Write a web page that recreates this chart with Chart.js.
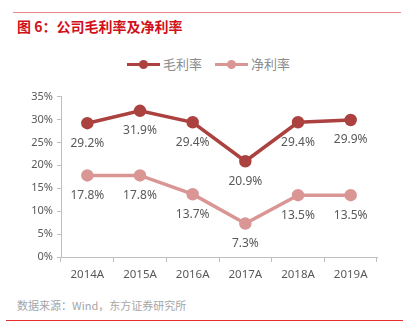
<!DOCTYPE html>
<html lang="zh">
<head>
    <meta charset="UTF-8">
    <title>公司毛利率及净利率</title>
    <script src="https://cdn.jsdelivr.net/npm/chart.js"></script>
    <style>
        body { margin: 0; width: 404px; height: 333px; background: #fff; position: relative; overflow: hidden;
               font-family: "Noto Sans CJK SC", "Noto Sans", sans-serif; }
        .top-rule { position: absolute; left: 13px; top: 12px; width: 388px; height: 1px; background: #e8888a; }
        .title { position: absolute; left: 17px; top: 16px; font-size: 14px; font-weight: bold; color: #d0101a; }
        .legend { position: absolute; top: 55px; left: 0; width: 404px; height: 18px; }
        .legend-item { position: absolute; top: 0; font-size: 13px; color: #8c8c8c; line-height: 18px; }
        .legend-line { position: absolute; top: 8px; width: 33px; height: 3px; }
        .legend-dot { position: absolute; top: 5px; left: 12px; width: 9px; height: 9px; border-radius: 50%; }
        .legend-text { position: absolute; left: 36px; white-space: nowrap; }
        .chart-box { position: absolute; left: 0; top: 86px; width: 404px; height: 204px; }
        .source { position: absolute; left: 17px; top: 297px; font-size: 11px; color: #a6a6a6; }
        .bottom-rule { position: absolute; left: 6px; top: 320px; width: 397px; height: 1px; background: #e52d2d; }
    </style>
</head>
<body>
    <div class="top-rule"></div>
    <div class="title">图 6：公司毛利率及净利率</div>
    <div class="legend" id="legend"></div>
    <div class="chart-box"><canvas id="marginChart"></canvas></div>
    <div class="source">数据来源：Wind，东方证券研究所</div>
    <div class="bottom-rule"></div>

    <script>
        // data
        const years = ['2014A', '2015A', '2016A', '2017A', '2018A', '2019A'];
        const grossMargin = [29.2, 31.9, 29.4, 20.9, 29.4, 29.9];
        const netMargin = [17.8, 17.8, 13.7, 7.3, 13.5, 13.5];
        const seriesNames = ['毛利率', '净利率'];
        const seriesColors = ['#ab4240', '#d99694'];

        // legend (line + dot, like the original)
        const legendX = [127, 215];
        const legend = document.getElementById('legend');
        seriesNames.forEach((name, i) => {
            const item = document.createElement('div');
            item.className = 'legend-item';
            item.style.left = legendX[i] + 'px';
            item.innerHTML = '<span class="legend-line" style="background:' + seriesColors[i] + '"></span>' +
                '<span class="legend-dot" style="background:' + seriesColors[i] + '"></span>' +
                '<span class="legend-text">' + name + '</span>';
            legend.appendChild(item);
        });

        // draw value labels under each point
        const valueLabels = {
            id: 'valueLabels',
            afterDatasetsDraw(chart) {
                const ctx = chart.ctx;
                ctx.save();
                ctx.font = '12px "Noto Sans", sans-serif';
                ctx.fillStyle = '#595959';
                ctx.textAlign = 'center';
                ctx.textBaseline = 'middle';
                chart.data.datasets.forEach((ds, i) => {
                    chart.getDatasetMeta(i).data.forEach((pt, j) => {
                        ctx.fillText(ds.data[j].toFixed(1) + '%', pt.x, pt.y + 20);
                    });
                });
                ctx.restore();
            }
        };

        new Chart(document.getElementById('marginChart'), {
            type: 'line',
            data: {
                labels: years,
                datasets: [{
                    label: seriesNames[0],
                    data: grossMargin,
                    borderColor: seriesColors[0],
                    backgroundColor: seriesColors[0],
                    borderWidth: 3.5,
                    pointRadius: 4.5,
                    tension: 0
                }, {
                    label: seriesNames[1],
                    data: netMargin,
                    borderColor: seriesColors[1],
                    backgroundColor: seriesColors[1],
                    borderWidth: 3.5,
                    pointRadius: 4.5,
                    tension: 0
                }]
            },
            options: {
                responsive: true,
                maintainAspectRatio: false,
                animation: false,
                layout: { padding: { left: 10, right: 27, top: 10, bottom: 0 } },
                plugins: {
                    legend: { display: false },
                    tooltip: { enabled: false }
                },
                scales: {
                    x: {
                        offset: true,
                        grid: { offset: true, drawOnChartArea: false, drawTicks: true, tickLength: 5, color: '#bfbfbf' },
                        border: { color: '#bfbfbf' },
                        ticks: { color: '#595959', font: { size: 11.5, family: '"Noto Sans", sans-serif' }, padding: 6 },
                        afterFit(scale) { scale.height = 33; }
                    },
                    y: {
                        min: 0,
                        max: 35,
                        grid: { drawOnChartArea: false, drawTicks: true, tickLength: 4, color: '#bfbfbf' },
                        border: { color: '#bfbfbf' },
                        ticks: {
                            stepSize: 5,
                            color: '#595959',
                            font: { size: 11, family: '"Noto Sans", sans-serif' },
                            padding: 4,
                            callback: v => v + '%'
                        },
                        afterFit(scale) { scale.width = 51; }
                    }
                }
            },
            plugins: [valueLabels]
        });
    </script>
</body>
</html>
